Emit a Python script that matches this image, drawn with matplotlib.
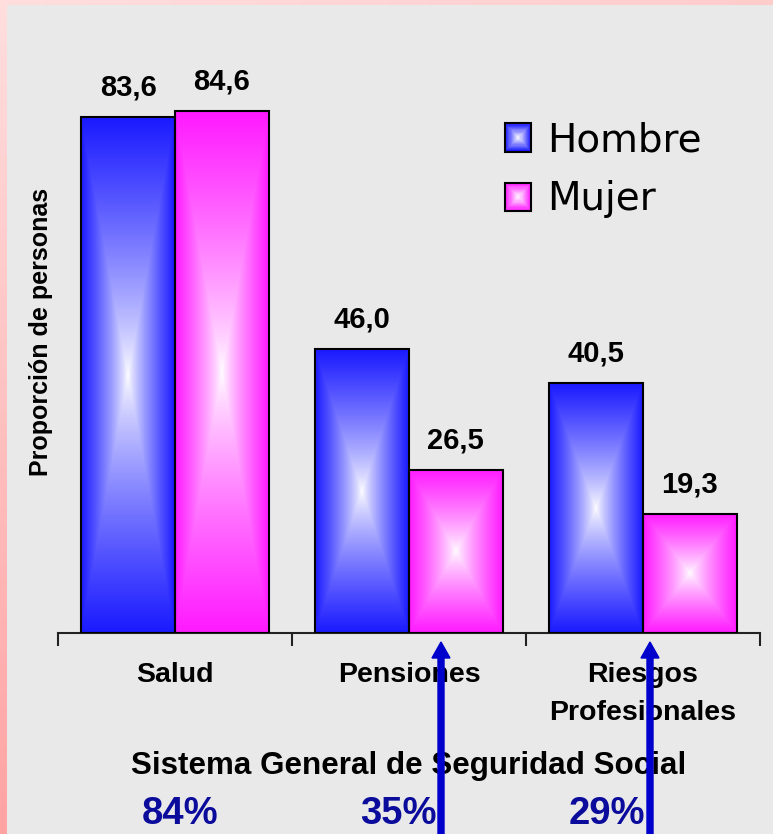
import matplotlib
matplotlib.use("Agg")

import matplotlib.pyplot as plt
import numpy as np
from matplotlib.colors import to_rgb
from matplotlib.legend_handler import HandlerBase
from matplotlib.patches import FancyArrow, Rectangle
from matplotlib.transforms import IdentityTransform


categories = ["Salud", "Pensiones", "Riesgos\nProfesionales"]
hombre = [83.6, 46.0, 40.5]
mujer = [84.6, 26.5, 19.3]
series_names = ["Hombre", "Mujer"]
cobertura = ["84%", "35%", "29%"]

BLUE = "#1a1aff"
PINK = "#ff1aff"
BG = "#e9e9e9"
BOLD = "Liberation Sans"

W, H, DPI = 773, 834, 100


def box_gradient(color, n=240):
    # white in the middle, full colour at the edges, rectangular contours
    u = np.linspace(-1, 1, n)
    uu, vv = np.meshgrid(u, u)
    t = np.maximum(np.abs(uu), np.abs(vv)) ** 0.8
    rgb = np.array(to_rgb(color))
    return (1 - t)[..., None] * 1.0 + t[..., None] * rgb


class BoxGradientHandler(HandlerBase):
    def __init__(self, color, steps=12):
        super().__init__()
        self.rgb = np.array(to_rgb(color))
        self.steps = steps

    def create_artists(self, legend, orig_handle, xdescent, ydescent,
                       width, height, fontsize, trans):
        arts = []
        for k in range(self.steps):
            f = k / self.steps
            t = 1 - f
            w, h = width * (1 - f), height * (1 - f)
            x0 = -xdescent + (width - w) / 2
            y0 = -ydescent + (height - h) / 2
            c = (1 - t) * np.ones(3) + t * self.rgb
            arts.append(Rectangle((x0, y0), w, h, facecolor=c,
                                  edgecolor="none", transform=trans))
        arts.append(Rectangle((-xdescent, -ydescent), width, height,
                              facecolor="none", edgecolor="black",
                              linewidth=1.5, transform=trans))
        return arts


def fmt(v):
    return f"{v:.1f}".replace(".", ",")


fig = plt.figure(figsize=(W / DPI, H / DPI), dpi=DPI, facecolor=BG)

# pink frame strips on the left and top edges
left = np.linspace(0, 1, H)[:, None, None]
strip_l = (1 - left) * np.array(to_rgb("#ffdede")) + left * np.array(to_rgb("#ffa3a3"))
fig.figimage(np.repeat(strip_l, 7, axis=1), xo=0, yo=0, origin="upper")
top = np.linspace(0, 1, W)[None, :, None]
strip_t = (1 - top) * np.array(to_rgb("#ffdede")) + top * np.array(to_rgb("#ffcccc"))
fig.figimage(np.repeat(strip_t, 5, axis=0), xo=0, yo=H - 5, origin="upper")

ax = fig.add_axes([58 / W, 201 / H, 702 / W, 586 / H])
ax.set_facecolor("none")

x = np.arange(len(categories))
bw = 0.4
grad_h = box_gradient(BLUE)
grad_m = box_gradient(PINK)

for xi, h, m in zip(x, hombre, mujer):
    ax.imshow(grad_h, extent=(xi - bw, xi, 0, h), aspect="auto",
              interpolation="bilinear", zorder=2)
    ax.imshow(grad_m, extent=(xi, xi + bw, 0, m), aspect="auto",
              interpolation="bilinear", zorder=2)

bars_h = ax.bar(x - bw / 2, hombre, bw, facecolor="none", edgecolor="black",
                linewidth=1.5, zorder=3)
bars_m = ax.bar(x + bw / 2, mujer, bw, facecolor="none", edgecolor="black",
                linewidth=1.5, zorder=3)

for bars, vals in ((bars_h, hombre), (bars_m, mujer)):
    for b, v in zip(bars, vals):
        ax.annotate(fmt(v), (b.get_x() + b.get_width() / 2, v),
                    xytext=(0, 15.5), textcoords="offset points",
                    ha="center", va="baseline", fontsize=21,
                    fontweight="bold", family=BOLD)

ax.set_xlim(-0.5, len(categories) - 0.5)
ax.set_ylim(0, 95)
ax.set_yticks([])
for side in ("left", "right", "top"):
    ax.spines[side].set_visible(False)
ax.spines["bottom"].set_linewidth(1.5)
ax.spines["bottom"].set_color("#222222")

ax.set_xticks(np.arange(len(categories) + 1) - 0.5)
ax.set_xticklabels([])
ax.tick_params(axis="x", which="major", length=9, width=1.5, color="#222222")
ax.set_xticks(x, minor=True)
ax.set_xticklabels(categories, minor=True, fontsize=20.5, fontweight="bold",
                   family=BOLD, linespacing=1.6)
ax.tick_params(axis="x", which="minor", length=0, pad=21)

ax.set_ylabel("Proporción de personas", fontsize=18, fontweight="bold",
              family=BOLD, va="center")
ax.yaxis.set_label_coords(41 / W, 1 - 332 / H, transform=fig.transFigure)

proxy_h = Rectangle((0, 0), 1, 1)
proxy_m = Rectangle((0, 0), 1, 1)
ax.legend([proxy_h, proxy_m], series_names,
          handler_map={proxy_h: BoxGradientHandler(BLUE),
                       proxy_m: BoxGradientHandler(PINK)},
          loc="upper left", bbox_to_anchor=(505 / W, 1 - 121 / H),
          bbox_transform=fig.transFigure, frameon=False, borderpad=0,
          borderaxespad=0, prop={"family": "DejaVu Sans", "size": 28},
          handlelength=0.68, handleheight=0.74, handletextpad=0.4,
          labelspacing=0.55)

fig.text(409 / W, 1 - 774 / H, "Sistema General de Seguridad Social",
         ha="center", va="baseline", fontsize=22.6, fontweight="bold", family=BOLD)

for px, txt in zip([180, 398, 607], cobertura):
    fig.text(px / W, 1 - 824 / H, txt, ha="center", va="baseline",
             fontsize=27.5, fontweight="bold", family=BOLD, color="#0b0b9c")

# arrows pointing up from the coverage figures
for px in (441, 650):
    fig.add_artist(FancyArrow(px, -5, 0, H - 642 + 5, width=6, head_width=18,
                              head_length=16, length_includes_head=True,
                              color="#0000cc", transform=IdentityTransform(),
                              zorder=10))

fig.savefig("out.png", dpi=DPI, facecolor=BG)
